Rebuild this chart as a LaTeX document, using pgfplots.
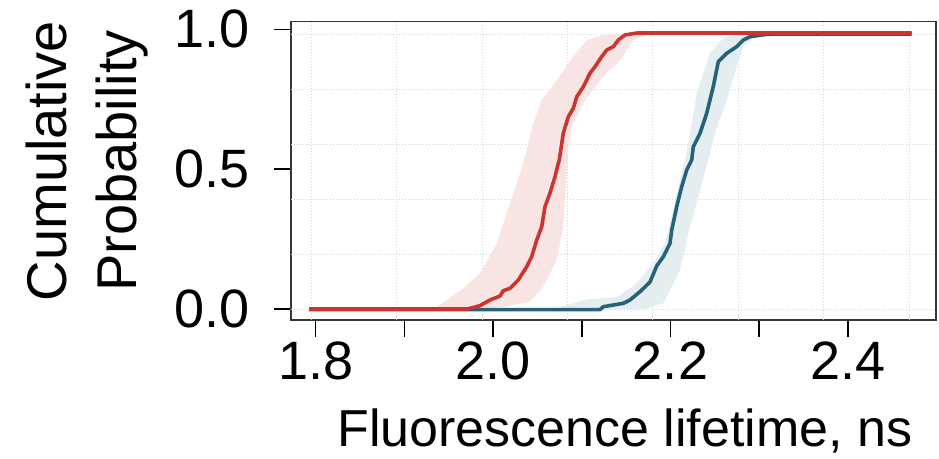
\documentclass[border=0pt]{standalone}
\usepackage{fontspec}
\setmainfont{Liberation Sans}
\usepackage{pgfplots}
\pgfplotsset{compat=1.18}
\definecolor{redline}{RGB}{205,52,48}
\definecolor{redband}{RGB}{247,228,227}
\definecolor{tealline}{RGB}{38,99,122}
\definecolor{tealband}{RGB}{228,237,240}
\definecolor{gridgray}{RGB}{210,210,210}
\definecolor{axisgray}{RGB}{55,55,55}
\begin{document}
\begin{tikzpicture}
\begin{axis}[
  at={(290.7pt,138pt)}, anchor=south west,
  scale only axis, width=645pt, height=298.3pt,
  xmin=1.7718, xmax=2.499, ymin=-0.0393, ymax=1.0272,
  axis line style={draw=axisgray, line width=1.6pt},
  tick align=outside,
  xtick pos=left, ytick pos=left,
  xtick={1.8,2.0,2.2,2.4}, minor xtick={1.9,2.1,2.3},
  xticklabels={1.8,2.0,2.2,2.4},
  ytick={0,0.5,1}, yticklabels={0.0,0.5,1.0},
  major tick length=16.5pt, minor tick length=16.5pt,
  tick style={black, line width=1.5pt},
  every minor tick/.style={black, line width=1.5pt},
  ticklabel style={font=\fontsize{54}{54}\selectfont, inner sep=0pt},
  xticklabel shift=5pt, yticklabel shift=24pt,
  /pgf/number format/assume math mode=true,
  extra x ticks={1.7947,1.8913,1.9875,2.0837,2.1799,2.2761,2.3723,2.4692},
  extra x tick labels={},
  extra x tick style={grid=major, major tick length=0pt},
  extra y ticks={0,0.1956,0.3922,0.5889,0.7855,0.9822},
  extra y tick labels={},
  extra y tick style={grid=major, major tick length=0pt},
  major grid style={gridgray, line width=1pt, dash pattern=on 1pt off 2pt},
  xlabel={Fluorescence lifetime, ns},
  xlabel style={font=\fontsize{52}{52}\selectfont, inner sep=0pt, anchor=base, at={(axis description cs:0.518,-0.4247)}},
  ylabel={Cumulative\\Probability},
  ylabel style={font=\fontsize{56}{70}\selectfont, align=center, inner sep=0pt, anchor=south, at={(axis description cs:-0.2212,0.533)}},
  clip=false,
]
% red band
\addplot[fill=redband, draw=none] coordinates {
(1.9326,0) (1.9477,0.0322) (1.9664,0.0740) (1.9852,0.1276) (2.0041,0.2349)
(2.0191,0.3779) (2.0340,0.5209) (2.0453,0.6639) (2.0548,0.7472) (2.0717,0.8187)
(2.0904,0.9020) (2.1055,0.9617) (2.1242,0.9796) (2.1468,0.9857)
(2.1844,0.9857) (2.1732,0.9796) (2.1581,0.9617) (2.1431,0.8902) (2.1242,0.8305)
(2.1036,0.7472) (2.0886,0.6518) (2.0848,0.5803) (2.0841,0.5327) (2.0811,0.4137)
(2.0791,0.2942) (2.0717,0.1752) (2.0566,0.0797) (2.0416,0.0261) (2.0115,0.0082)
(1.9928,0)
} -- cycle;
% teal band
\addplot[fill=tealband, draw=none] coordinates {
(2.0679,0) (2.1055,0.0347) (2.1393,0.0418) (2.1619,0.0919) (2.1806,0.1634)
(2.1938,0.2349) (2.2014,0.3300) (2.2107,0.4612) (2.2163,0.5327) (2.2183,0.5567)
(2.2295,0.7712) (2.2445,0.9142) (2.2595,0.9678) (2.2708,0.9796) (2.2821,0.9857)
(2.3235,0.9857) (2.3085,0.9796) (2.2934,0.9678) (2.2821,0.9378) (2.2746,0.8663)
(2.2634,0.7472) (2.2502,0.6282) (2.2426,0.5327) (2.2333,0.4255) (2.2220,0.2942)
(2.2107,0.1394) (2.1919,0.0204) (2.1714,0)
} -- cycle;
% teal line
\addplot[tealline, line width=3.6pt, line join=round] coordinates {
(1.7925,-0.002) (2.1205,-0.002) (2.1242,0.0082) (2.1355,0.0143) (2.1468,0.0203)
(2.1543,0.0322) (2.1656,0.0619) (2.1769,0.0965) (2.1844,0.1537) (2.1919,0.1870)
(2.1957,0.2109) (2.1994,0.2349) (2.2014,0.2824) (2.2070,0.3658) (2.2126,0.4373)
(2.2183,0.4970) (2.2239,0.5327) (2.2257,0.5803) (2.2333,0.6282) (2.2408,0.6997)
(2.2482,0.7948) (2.2539,0.8842) (2.2634,0.9142) (2.2746,0.9378) (2.2821,0.9617)
(2.2896,0.9736) (2.3085,0.9821) (2.3235,0.9832) (2.4719,0.9832)
};
% red line
\addplot[redline, line width=3.6pt, line join=round] coordinates {
(1.7925,0) (1.9702,0) (1.9740,0.0025) (1.9852,0.0118) (1.9965,0.0322)
(2.0078,0.0465) (2.0115,0.0654) (2.0191,0.0740) (2.0284,0.1037) (2.0379,0.1512)
(2.0435,0.1870) (2.0492,0.2467) (2.0548,0.2942) (2.0585,0.3658) (2.0641,0.4137)
(2.0698,0.4730) (2.0735,0.5209) (2.0746,0.5327) (2.0791,0.6282) (2.0848,0.6875)
(2.0904,0.7176) (2.0943,0.7590) (2.1017,0.7948) (2.1092,0.8427) (2.1149,0.8663)
(2.1224,0.9020) (2.1281,0.9260) (2.1355,0.9378) (2.1412,0.9617) (2.1487,0.9796)
(2.1619,0.9868) (2.4719,0.9868)
};
\end{axis}
\pgfresetboundingbox
\path[use as bounding box] (0,0) rectangle (939pt,458pt);
\end{tikzpicture}
\end{document}
